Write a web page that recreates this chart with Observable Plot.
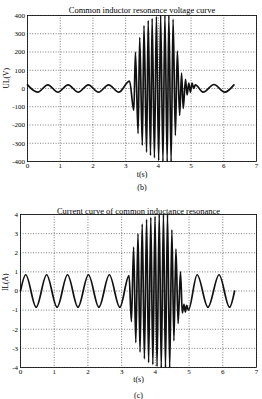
<!DOCTYPE html>
<html><head><meta charset="utf-8">
<script src="https://cdn.jsdelivr.net/npm/d3@7"></script>
<script src="https://cdn.jsdelivr.net/npm/@observablehq/plot@0.6"></script>
<style>
body{margin:0;background:#fff;width:262px;height:399px;overflow:hidden;position:relative;font-family:"Liberation Serif",serif}
#c1{position:absolute;left:0;top:0}
#c2{position:absolute;left:0;top:195px}
svg{display:block}
</style></head><body><div id="c1"></div><div id="c2"></div>
<script>
// Shared x ticks (time, s)
const xTicks = [0, 1, 2, 3, 4, 5, 6, 7];

// (b) Inductor voltage: extrema
const voltageTitle = "Common inductor resonance voltage curve";
const voltageLabel = "UL(V)";
const voltageCaption = "(b)";
const voltageTicks = [-400, -300, -200, -100, 0, 100, 200, 300, 400];
const voltageT = [0, 0.31, 0.62, 0.93, 1.24, 1.55, 1.86, 2.17, 2.48, 2.79, 3.12,
  3.25, 3.30, 3.38, 3.43, 3.51, 3.56, 3.64, 3.69, 3.76, 3.81, 3.88, 3.94, 4.01, 4.07,
  4.14, 4.20, 4.27, 4.32, 4.39, 4.45, 4.52, 4.58, 4.65, 4.71, 4.76, 4.83, 4.88, 4.93,
  4.98, 5.03, 5.08, 5.13, 5.37, 5.70, 6.03, 6.31];
const voltageV = [20, -20, 20, -20, 20, -20, 20, -20, 20, -20, 40,
  -120, 200, -247, 280, -312, 345, -349, 372, -367, 383, -380, 395, -395, 400,
  -400, 400, -400, 400, -400, 380, -258, 205, -148, 85, -110, 50, -35, 30,
  -20, 30, 0, 20, -20, 22, -20, 20];

// (c) Inductor current: extrema
const currentTitle = "Current curve of common inductance resonance";
const currentLabel = "IL(A)";
const currentCaption = "(c)";
const currentTicks = [-4, -3, -2, -1, 0, 1, 2, 3, 4];
const currentT = [0, 0.155, 0.465, 0.775, 1.085, 1.395, 1.705, 2.015, 2.325, 2.635, 2.945,
  3.22, 3.29, 3.355, 3.42, 3.485, 3.545, 3.61, 3.675, 3.74, 3.80, 3.865, 3.925, 3.99, 4.05,
  4.115, 4.175, 4.24, 4.30, 4.36, 4.425, 4.49, 4.55, 4.61, 4.675, 4.745, 4.80,
  4.85, 4.89, 4.93, 4.98, 5.24, 5.56, 5.89, 6.20, 6.35];
const currentI = [0, 0.85, -0.85, 0.85, -0.85, 0.85, -0.85, 0.85, -0.85, 0.85, -0.85,
  0.8, -1.6, 2.3, -2.7, 3.0, -3.2, 3.5, -3.55, 3.75, -3.75, 3.85, -3.85, 3.9, -3.95,
  4.0, -4.0, 4.0, -4.0, 4.0, -4.0, 3.2, -2.6, 2.2, -1.7, 1.0, -1.15,
  -0.7, -1.1, -0.75, -1.0, 0.85, -0.85, 0.85, -0.85, 0];

function chart(o) {
  const data = o.t.map((d, i) => ({t: d, y: o.y[i]}));
  const gridStyle = {stroke: "#000", strokeOpacity: 0.75, strokeWidth: 0.7, strokeDasharray: "1,1.6"};
  return Plot.plot({
    width: 262, height: o.h,
    marginLeft: o.ml, marginRight: 6, marginTop: o.mt, marginBottom: o.mb,
    style: {fontFamily: "'Liberation Serif', serif", fontSize: "7px", color: "#000", background: "#fff"},
    x: {domain: [0, 7]},
    y: {domain: [o.ticks[0], o.ticks[o.ticks.length - 1]]},
    marks: [
      Plot.gridX({...gridStyle, ticks: xTicks}),
      Plot.gridY({...gridStyle, ticks: o.ticks}),
      Plot.lineY(data, {x: "t", y: "y", curve: "monotone-x", stroke: "#111", strokeWidth: 1.7}),
      Plot.frame({stroke: "#000", strokeWidth: 0.8}),
      Plot.axisX({ticks: xTicks, tickSize: 0, tickPadding: 1.5, tickFormat: d => `${d}`, label: null}),
      Plot.axisY({ticks: o.ticks, tickSize: 0, tickPadding: 2.5, tickFormat: d => `${d}`, label: null}),
      Plot.text([o.title], {text: d => d, frameAnchor: "top", dy: o.titleDy, fontSize: 8.5, fill: "#000"}),
      Plot.text(["t(s)"], {text: d => d, frameAnchor: "bottom", dy: o.xlabDy, fontSize: 8, fill: "#000"}),
      Plot.text([o.caption], {text: d => d, frameAnchor: "bottom", dy: o.capDy, fontSize: 8, fill: "#000"}),
      Plot.text([o.ylabel], {text: d => d, frameAnchor: "left", dx: o.ylabDx, rotate: -90, fontSize: 7.5, fill: "#000"})
    ]
  });
}

document.getElementById("c1").append(chart({
  t: voltageT, y: voltageV, ticks: voltageTicks, title: voltageTitle, ylabel: voltageLabel,
  caption: voltageCaption, h: 195, ml: 27, mt: 15, mb: 34, titleDy: -9, xlabDy: 15, capDy: 28, ylabDx: -21
}));
document.getElementById("c2").append(chart({
  t: currentT, y: currentI, ticks: currentTicks, title: currentTitle, ylabel: currentLabel,
  caption: currentCaption, h: 204, ml: 20, mt: 19, mb: 32, titleDy: -7, xlabDy: 14, capDy: 30, ylabDx: -15
}));
</script>
</body></html>
